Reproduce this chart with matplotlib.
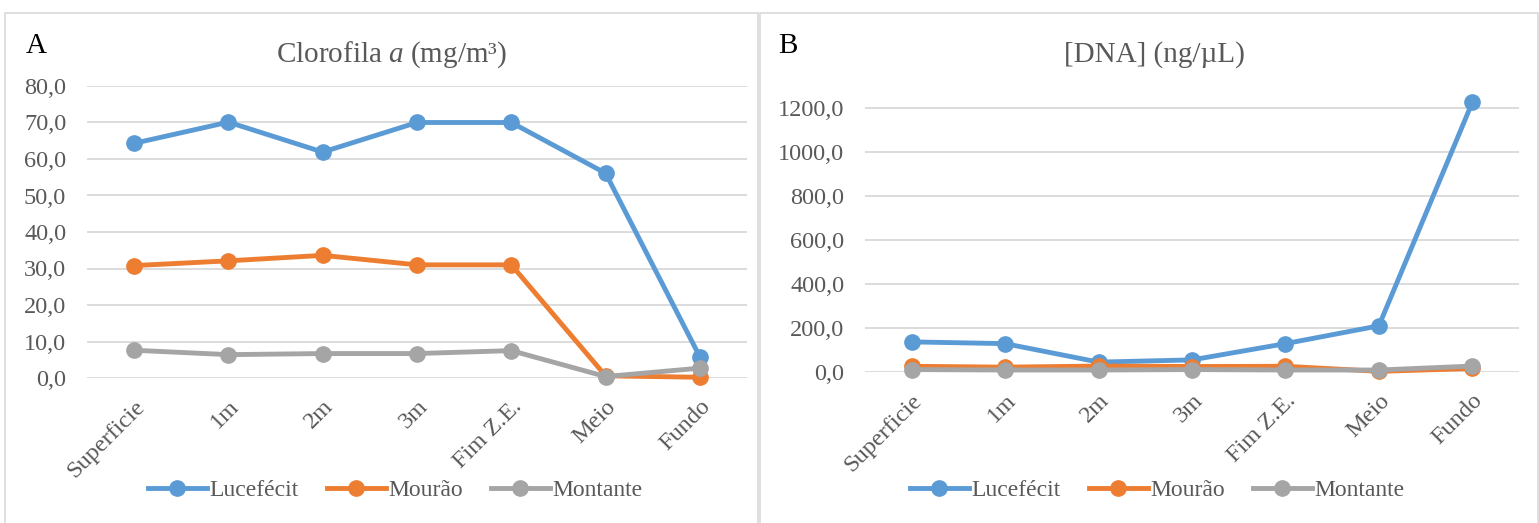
import matplotlib
matplotlib.use("Agg")
import matplotlib.pyplot as plt
from matplotlib.patches import Rectangle

plt.rcParams['font.family'] = ['Liberation Serif', 'DejaVu Serif']
plt.rcParams['mathtext.fontset'] = 'custom'
plt.rcParams['mathtext.rm'] = 'Liberation Serif'
plt.rcParams['mathtext.it'] = 'Liberation Serif:italic'

# data
categories = ['Superficie', '1m', '2m', '3m', 'Fim Z.E.', 'Meio', 'Fundo']
series_names = ['Lucefécit', 'Mourão', 'Montante']

clor_lucefecit = [64.3, 70.1, 61.9, 70.0, 70.0, 56.1, 5.8]
clor_mourao = [30.8, 32.1, 33.6, 31.0, 31.0, 0.6, 0.2]
clor_montante = [7.6, 6.4, 6.7, 6.7, 7.5, 0.4, 2.7]

dna_lucefecit = [137.0, 129.0, 45.0, 55.0, 129.0, 210.0, 1226.0]
dna_mourao = [26.0, 22.0, 27.0, 25.0, 26.0, 3.0, 16.0]
dna_montante = [11.0, 9.0, 9.0, 11.0, 9.0, 9.0, 27.0]

colors = ['#5B9BD5', '#ED7D31', '#A5A5A5']
txt = '#595959'
grid = '#D9D9D9'

W, H = 1539, 523
fig = plt.figure(figsize=(W / 100, H / 100), dpi=100)


def px(x0, y0, x1, y1):
    # pixel box (top-left origin) -> figure fraction rect
    return [x0 / W, 1 - y1 / H, (x1 - x0) / W, (y1 - y0) / H]


# chart frames
for x0, x1 in [(5, 758), (760, 1538)]:
    fig.patches.append(Rectangle((x0 / W, -0.01), (x1 - x0) / W, 1 - 13 / H + 0.01,
                                 transform=fig.transFigure, fill=False,
                                 edgecolor=grid, linewidth=1.2))


def draw(ax, data, ymax, ticks):
    for vals, c, name in zip(data, colors, series_names):
        ax.plot(categories, vals, color=c, lw=3.5, marker='o', ms=11,
                label=name, clip_on=False, zorder=3)
    ax.set_ylim(0, ymax)
    ax.set_xlim(-0.5, len(categories) - 0.5)
    ax.set_yticks(ticks)
    ax.set_yticklabels([('%.1f' % t).replace('.', ',') for t in ticks])
    ax.yaxis.grid(True, color=grid, lw=1.3)
    ax.set_axisbelow(True)
    for s in ax.spines.values():
        s.set_visible(False)
    ax.tick_params(length=0, labelsize=17.5, colors=txt)
    ax.tick_params(axis='y', pad=15)
    ax.tick_params(axis='x', pad=13)
    for lab in ax.get_xticklabels():
        lab.set_rotation(45)
        lab.set_ha('right')
        lab.set_rotation_mode('anchor')


# panel A
ax1 = fig.add_axes(px(87, 86, 747, 378))
draw(ax1, [clor_lucefecit, clor_mourao, clor_montante], 80,
     [0, 10, 20, 30, 40, 50, 60, 70, 80])

# panel B
ax2 = fig.add_axes(px(865, 95, 1519, 372))
draw(ax2, [dna_lucefecit, dna_mourao, dna_montante], 1260,
     [0, 200, 400, 600, 800, 1000, 1200])

# titles and panel letters
fig.text(392 / W, 1 - 55 / H, 'Clorofila $\\it{a}$ (mg/m³)', ha='center', va='center',
         fontsize=21, color=txt)
fig.text(1154 / W, 1 - 55 / H, '[DNA] (ng/µL)', ha='center', va='center',
         fontsize=21, color=txt)
fig.text(26 / W, 1 - 53 / H, 'A', fontsize=21, color='black', va='baseline')
fig.text(778 / W, 1 - 53 / H, 'B', fontsize=21, color='black', va='baseline')

# legends
for ax, cx in [(ax1, 395), (ax2, 1157)]:
    h, l = ax.get_legend_handles_labels()
    fig.legend(h, l, loc='center', bbox_to_anchor=(cx / W, 1 - 490 / H), ncol=3,
               frameon=False, fontsize=17, handlelength=2.5, handletextpad=0.1,
               columnspacing=1.2, labelcolor=txt)

fig.savefig('out.png', dpi=100)
